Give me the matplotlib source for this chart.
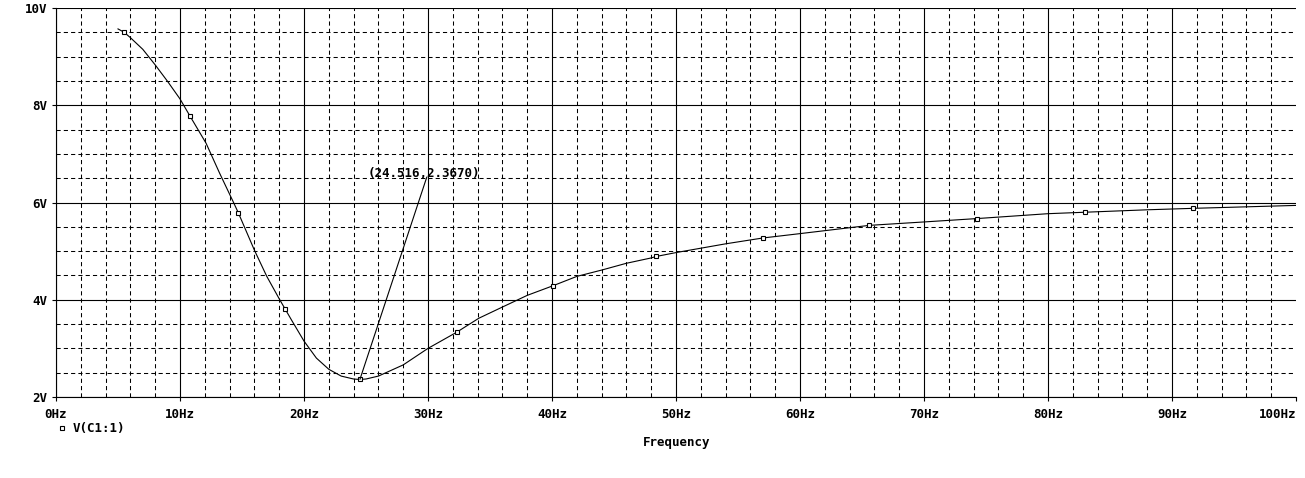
import numpy as np
import matplotlib
matplotlib.use("Agg")
import matplotlib.pyplot as plt
from matplotlib.ticker import MultipleLocator

# trace V(C1:1) (Hz, V)
freq = [5.0, 5.5, 6.0, 7.0, 8.0, 9.0, 10.0, 10.8, 12.1, 13.2, 14.3, 14.7,
        16.0, 17.0, 18.0, 18.5, 19.0, 20.0, 21.0, 22.0, 23.0, 24.0, 24.5,
        25.0, 26.0, 28.0, 30.0, 32.3, 34.1, 36.0, 38.0, 40.1, 42.0, 44.0,
        46.0, 48.0, 48.4, 50.0, 52.0, 54.0, 57.0, 60.0, 65.6, 70.0, 74.3,
        80.0, 83.0, 88.0, 91.7, 100.0]
volts = [9.57, 9.50, 9.39, 9.15, 8.83, 8.49, 8.13, 7.78, 7.22, 6.60, 6.01, 5.79,
         5.02, 4.48, 4.02, 3.80, 3.58, 3.15, 2.80, 2.57, 2.43, 2.37, 2.36,
         2.37, 2.43, 2.66, 3.00, 3.33, 3.62, 3.85, 4.09, 4.29, 4.48, 4.61,
         4.75, 4.86, 4.89, 4.97, 5.06, 5.15, 5.27, 5.36, 5.53, 5.60, 5.67,
         5.77, 5.80, 5.85, 5.88, 5.94]

# square symbols along the trace
mark_f = [5.5, 10.8, 14.7, 18.5, 24.516, 32.3, 40.1, 48.4, 57.0, 65.6, 74.3, 83.0, 91.7]
mark_v = [9.50, 7.78, 5.79, 3.80, 2.367, 3.33, 4.29, 4.89, 5.27, 5.53, 5.67, 5.80, 5.88]

x_ticks = [0, 10, 20, 30, 40, 50, 60, 70, 80, 90, 100]
x_labels = ["0Hz", "10Hz", "20Hz", "30Hz", "40Hz", "50Hz", "60Hz", "70Hz", "80Hz", "90Hz", "100Hz"]
y_ticks = [2, 4, 6, 8, 10]
y_labels = ["2V", "4V", "6V", "8V", "10V"]

# cursor label
cursor_pt = (24.516, 2.367)
label_end = (29.9, 6.52)
label_txt = "(24.516,2.3670)"

plt.rcParams['font.family'] = 'DejaVu Sans Mono'
plt.rcParams['font.weight'] = 'bold'
plt.rcParams['font.size'] = 9

fig = plt.figure(figsize=(13.05, 4.78), dpi=100)
ax = fig.add_axes([56/1305, 1-397/478, (1296-56)/1305, (397-8)/478])

ax.set_xlim(0, 100)
ax.set_ylim(2, 10)
ax.set_xticks(x_ticks, x_labels)
ax.set_yticks(y_ticks, y_labels)
ax.xaxis.set_minor_locator(MultipleLocator(2))
ax.yaxis.set_minor_locator(MultipleLocator(0.5))

ax.grid(which='major', color='black', lw=0.8, ls='-')
ax.grid(which='minor', color='black', lw=0.75, ls=(0, (4, 3)))
ax.tick_params(which='major', direction='out', length=3, width=0.8, pad=5, colors='black')
ax.tick_params(axis='y', pad=3)
ax.tick_params(which='minor', length=0)
for s in ['right', 'top']:
    ax.spines[s].set_visible(False)
for s in ['left', 'bottom']:
    ax.spines[s].set_linewidth(0.8)

ax.plot(freq, volts, color='black', lw=0.8)
ax.plot(mark_f, mark_v, ls='none', marker='s', ms=3.5, mfc='white', mec='black', mew=0.8)

ax.plot([cursor_pt[0], label_end[0]], [cursor_pt[1], label_end[1]], color='black', lw=0.8)
ax.text(25.1, 6.59, label_txt, ha='left', va='center')

# no full grid line at 100Hz, last label pulled inside
ax.xaxis.get_major_ticks()[-1].gridline.set_visible(False)
ax.xaxis.get_major_ticks()[-1].label1.set_horizontalalignment('right')

fig.lines.append(plt.Line2D([61.7/1305], [1-428.3/478], transform=fig.transFigure,
                            marker='s', ms=3.5, mfc='white', mec='black', mew=0.8, ls='none'))
fig.text(72.7/1305, 1-428.3/478, "V(C1:1)", ha='left', va='center')
fig.text(676.7/1305, 1-442.7/478, "Frequency", ha='center', va='center')

fig.savefig("out.png", dpi=100, facecolor='white')
